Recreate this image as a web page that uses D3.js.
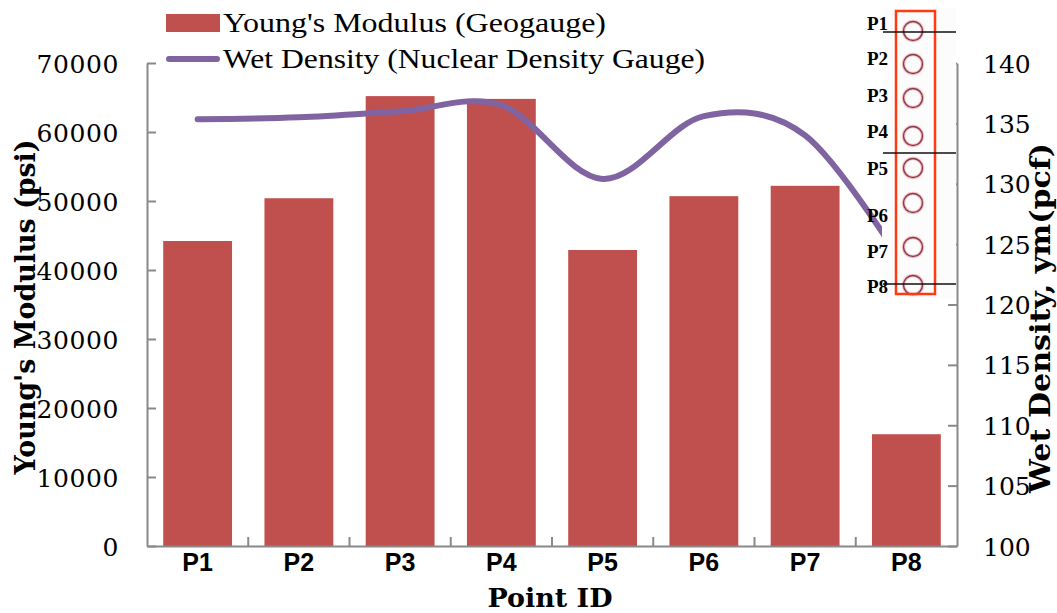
<!DOCTYPE html>
<html><head><meta charset="utf-8">
<script src="https://cdn.jsdelivr.net/npm/d3@7"></script>
<style>body{margin:0;background:#fff;}svg{display:block;}</style>
</head><body>
<svg id="c" width="1057" height="613"></svg>
<script>
const categories = ["P1","P2","P3","P4","P5","P6","P7","P8"];
const modulus = [44200, 50400, 65200, 64800, 42900, 50700, 52200, 16200];
const density = [135.35, 135.5, 136.0, 136.5, 130.4, 135.6, 134.0, 122.9];
const leftTicks = [0,10000,20000,30000,40000,50000,60000,70000];
const rightTicks = [100,105,110,115,120,125,130,135,140];
const insetLabels = ["P1","P2","P3","P4","P5","P6","P7","P8"];

const svg = d3.select("#c");
const L = 147, R = 957, T = 63, B = 546;
const x = d3.scaleBand().domain(categories).range([L, R]).paddingInner(0.32).paddingOuter(0.16);
const yL = d3.scaleLinear().domain([0,70000]).range([B, T]);
const yR = d3.scaleLinear().domain([100,140]).range([B, T]);
const axisColor = "#898989";
const tickFont = "'DejaVu Serif', serif";

// bars
svg.append("g").selectAll("rect").data(categories).join("rect")
  .attr("x", d => x(d)).attr("width", x.bandwidth())
  .attr("y", (d,i) => yL(modulus[i])).attr("height", (d,i) => B - yL(modulus[i]))
  .attr("fill", "#C0504D");

// line
const line = d3.line().x((d,i) => x(categories[i]) + x.bandwidth()/2).y(d => yR(d)).curve(d3.curveCardinal.tension(0));
svg.append("path").attr("d", line(density)).attr("fill","none")
  .attr("stroke","#8064A2").attr("stroke-width",6).attr("stroke-linecap","round").attr("stroke-linejoin","round");

// axis titles (drawn under tick labels)
svg.append("text").attr("transform","translate(35,307) rotate(-90)").attr("text-anchor","middle")
  .attr("font-family",tickFont).attr("font-weight","bold").attr("font-size",27)
  .attr("textLength",335).attr("lengthAdjust","spacingAndGlyphs").text("Young's Modulus (psi)");
svg.append("text").attr("transform","translate(1050,318) rotate(-90)").attr("text-anchor","middle")
  .attr("font-family",tickFont).attr("font-weight","bold").attr("font-size",28)
  .attr("textLength",350).attr("lengthAdjust","spacingAndGlyphs").text("Wet Density, ym(pcf)");
svg.append("text").attr("x",550).attr("y",607).attr("text-anchor","middle")
  .attr("font-family",tickFont).attr("font-weight","bold").attr("font-size",26)
  .attr("textLength",125).attr("lengthAdjust","spacingAndGlyphs").text("Point ID");

// left axis
const gl = svg.append("g").attr("transform", `translate(${L},0)`)
  .call(d3.axisLeft(yL).tickValues(leftTicks).tickSizeInner(-9).tickSizeOuter(0).tickPadding(28).tickFormat(d3.format("d")));
gl.select(".domain").attr("stroke", axisColor).attr("stroke-width", 2);
gl.selectAll(".tick line").attr("stroke", axisColor).attr("stroke-width", 2);
gl.selectAll(".tick text").attr("font-family", tickFont).attr("font-size", 25).attr("letter-spacing","0.6px").attr("fill","#000").attr("dy","0.36em");

// right axis
const gr = svg.append("g").attr("transform", `translate(${R},0)`)
  .call(d3.axisRight(yR).tickValues(rightTicks).tickSizeInner(-9).tickSizeOuter(0).tickPadding(26));
gr.select(".domain").attr("stroke", axisColor).attr("stroke-width", 2);
gr.selectAll(".tick line").attr("stroke", axisColor).attr("stroke-width", 2);
gr.selectAll(".tick text").attr("font-family", tickFont).attr("font-size", 25).attr("fill","#000").attr("dy","0.36em");

// bottom axis
const gb = svg.append("g").attr("transform", `translate(0,${B})`)
  .call(d3.axisBottom(x).tickSize(0).tickPadding(7));
gb.select(".domain").attr("stroke", axisColor).attr("stroke-width", 2);
gb.selectAll(".tick text").attr("font-family","'Liberation Sans', Arial, sans-serif").attr("font-weight","bold").attr("font-size",25).attr("fill","#000");
// category boundary ticks
const step = x.step();
const bounds = d3.range(categories.length + 1).map(i => L + i * step);
svg.append("g").selectAll("line").data(bounds.slice(1, -1)).join("line")
  .attr("x1", d => d).attr("x2", d => d).attr("y1", B).attr("y2", B - 9)
  .attr("stroke", axisColor).attr("stroke-width", 2);

// legend
svg.append("rect").attr("x",166).attr("y",14).attr("width",54).attr("height",18).attr("fill","#C0504D");
svg.append("line").attr("x1",169).attr("x2",217).attr("y1",59).attr("y2",59)
  .attr("stroke","#8064A2").attr("stroke-width",6).attr("stroke-linecap","round");
svg.append("text").attr("x",223).attr("y",32).attr("font-family","'Liberation Serif', serif").attr("font-size",27)
  .attr("textLength",383).attr("lengthAdjust","spacingAndGlyphs").text("Young's Modulus (Geogauge)");
svg.append("text").attr("x",223).attr("y",68).attr("font-family","'Liberation Serif', serif").attr("font-size",27)
  .attr("textLength",482).attr("lengthAdjust","spacingAndGlyphs").text("Wet Density (Nuclear Density Gauge)");

// inset
const inset = svg.append("g");
inset.append("rect").attr("x",882).attr("y",8).attr("width",74).attr("height",290).attr("fill","#fcfcfc");
const circY = [31, 64, 98, 136, 168, 203, 247, 285];
inset.selectAll("circle.h").data(circY).join("circle").attr("class","h")
  .attr("cx",913).attr("cy",d=>d).attr("r",9.5).attr("fill","none").attr("stroke","#f2c4c8").attr("stroke-width",3.5);
inset.selectAll("circle.c").data(circY).join("circle").attr("class","c")
  .attr("cx",913).attr("cy",d=>d).attr("r",9.5).attr("fill","none").attr("stroke","#8a3a48").attr("stroke-width",1.4);
inset.append("rect").attr("x",896).attr("y",11).attr("width",39).attr("height",283)
  .attr("fill","none").attr("stroke","#FF3A10").attr("stroke-width",2.5);
[32,153,284].forEach(yy => inset.append("line").attr("x1",883).attr("x2",956).attr("y1",yy).attr("y2",yy)
  .attr("stroke","#111").attr("stroke-width",1.6));
const labY = [30, 65, 102, 138, 175, 222, 258, 293];
inset.selectAll("text").data(insetLabels).join("text")
  .attr("x",867).attr("y",(d,i)=>labY[i]).attr("font-family","'Liberation Serif', serif").attr("font-weight","bold")
  .attr("font-size",19).attr("fill","#000").text(d=>d);
</script>
</body></html>
